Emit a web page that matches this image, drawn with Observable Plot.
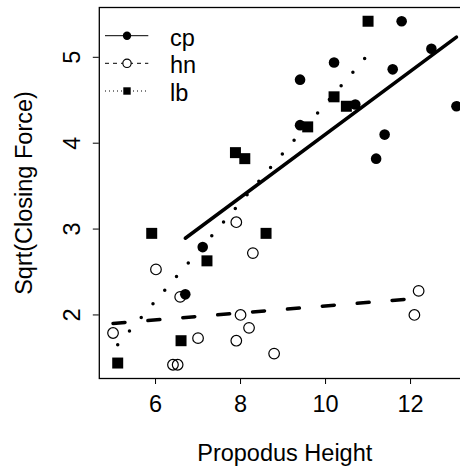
<!DOCTYPE html>
<html><head><meta charset="utf-8">
<script src="https://cdn.jsdelivr.net/npm/d3@7"></script>
<script src="https://cdn.jsdelivr.net/npm/@observablehq/plot@0.6"></script>
<style>
html,body{margin:0;padding:0;background:#fff;overflow:hidden;}
#wrap{position:relative;width:460px;height:466px;overflow:hidden;}
#wrap svg{display:block;}
#legend{position:absolute;left:0;top:0;pointer-events:none;}
</style></head><body><div id="wrap"></div>
<script>
// ---- data ----
const species = ["cp", "hn", "lb"];
const cpX = [11.79, 12.49, 10.20, 11.58, 9.40, 10.70, 13.08, 9.40, 11.39, 11.19, 7.11, 6.70];
const cpY = [5.42, 5.10, 4.94, 4.86, 4.74, 4.45, 4.43, 4.21, 4.10, 3.82, 2.79, 2.24];
const hnX = [7.90, 8.29, 6.01, 6.58, 8.00, 5.00, 8.20, 7.00, 7.90, 6.41, 6.52, 8.79, 12.19, 12.09];
const hnY = [3.08, 2.72, 2.53, 2.21, 2.00, 1.79, 1.85, 1.73, 1.70, 1.42, 1.42, 1.55, 2.28, 2.00];
const lbX = [11.00, 10.20, 10.49, 9.58, 7.88, 8.10, 5.91, 8.60, 7.21, 6.60, 5.11];
const lbY = [5.42, 4.54, 4.43, 4.19, 3.89, 3.82, 2.95, 2.95, 2.63, 1.70, 1.44];
const xTicks = [6, 8, 10, 12];
const yTicks = [2, 3, 4, 5];
const xLabel = "Propodus Height";
const yLabel = "Sqrt(Closing Force)";

const toRows = (xs, ys, sp) => xs.map((x, i) => ({x, y: ys[i], sp}));
const cp = toRows(cpX, cpY, "cp");
const hn = toRows(hnX, hnY, "hn");
const lb = toRows(lbX, lbY, "lb");
const all = [...cp, ...hn, ...lb];

// R-style 4% axis extension
const ext = (vals) => { const [a, b] = d3.extent(vals); const p = (b - a) * 0.04; return [a - p, b + p]; };
const xDomain = ext(all.map(d => d.x));
const yDomain = ext(all.map(d => d.y));

const font = "'Liberation Sans', Arial, Helvetica, sans-serif";
const fs = 23.5;

const chart = Plot.plot({
  width: 460, height: 466,
  marginLeft: 98.8, marginTop: 7, marginBottom: 88, marginRight: -9.7,
  style: {fontFamily: font, fontSize: fs + "px", color: "black", background: "white"},
  x: {domain: xDomain},
  y: {domain: yDomain},
  marks: [
    Plot.frame({stroke: "black", strokeWidth: 1.3}),
    Plot.axisX({ticks: xTicks, tickSize: 6, tickPadding: 11, tickFormat: d3.format("d"), fontSize: fs, label: xLabel,
      labelAnchor: "center", labelArrow: "none", labelOffset: 82.5}),
    Plot.axisY({ticks: yTicks, tickSize: 6, tickPadding: 13, tickRotate: -90, textAnchor: "middle",
      lineAnchor: "bottom", tickFormat: d3.format("d"), fontSize: fs, label: yLabel, labelAnchor: "center", labelArrow: "none", labelOffset: 84}),
    Plot.linearRegressionY(cp, {x: "x", y: "y", ci: 0, stroke: "black", strokeWidth: 3.5, strokeLinecap: "round"}),
    Plot.linearRegressionY(hn, {x: "x", y: "y", ci: 0, stroke: "black", strokeWidth: 3.5, strokeLinecap: "round", strokeDasharray: "12,23"}),
    Plot.linearRegressionY(lb, {x: "x", y: "y", ci: 0, stroke: "black", strokeWidth: 3.5, strokeLinecap: "round", strokeDasharray: "0,18"}),
    Plot.dot(cp, {x: "x", y: "y", r: 5.3, fill: "black", stroke: "none"}),
    Plot.dot(hn, {x: "x", y: "y", r: 5.3, fill: "none", stroke: "black", strokeWidth: 1.2}),
    Plot.dot(lb, {x: "x", y: "y", r: 6.2, symbol: "square", fill: "black", stroke: "none"})
  ]
});
const wrap = document.getElementById("wrap");
wrap.appendChild(chart);

// ---- legend overlay ----
const rowY = [35.7, 63.3, 91];
const dashes = {cp: null, hn: "4,4", lb: "1,3"};
const svg = d3.select(wrap).append("svg").attr("id", "legend").attr("width", 460).attr("height", 466);
species.forEach((sp, i) => {
  const g = svg.append("g");
  g.append("line").attr("x1", 105).attr("x2", 148.3).attr("y1", rowY[i]).attr("y2", rowY[i])
    .attr("stroke", "black").attr("stroke-width", 1).attr("stroke-dasharray", dashes[sp]);
  if (sp === "cp") g.append("circle").attr("cx", 127).attr("cy", rowY[i]).attr("r", 4.2).attr("fill", "black");
  if (sp === "hn") g.append("circle").attr("cx", 127).attr("cy", rowY[i]).attr("r", 4.2).attr("fill", "white").attr("stroke", "black").attr("stroke-width", 1.2);
  if (sp === "lb") g.append("rect").attr("x", 123.3).attr("y", rowY[i] - 3.7).attr("width", 7.4).attr("height", 7.4).attr("fill", "black");
  g.append("text").attr("x", 170).attr("y", rowY[i] + 10).attr("font-family", font).attr("font-size", fs).text(sp);
});
</script>
</body></html>
